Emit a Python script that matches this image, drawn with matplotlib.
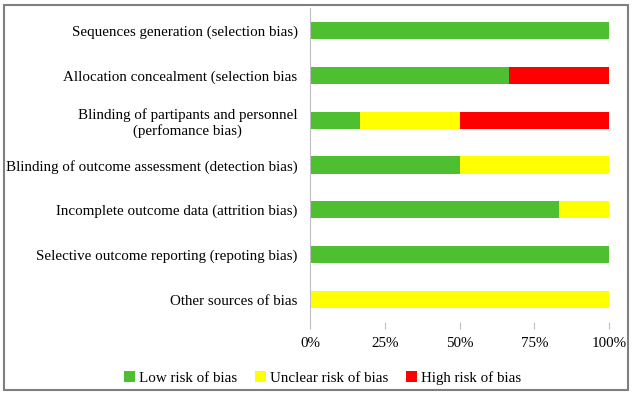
import matplotlib
matplotlib.use("Agg")
import matplotlib.pyplot as plt
from matplotlib.patches import Rectangle

categories = [
    "Sequences generation (selection bias)",
    "Allocation concealment (selection bias",
    "Blinding of partipants and personnel\n(perfomance bias)",
    "Blinding of outcome assessment (detection bias)",
    "Incomplete outcome data (attrition bias)",
    "Selective outcome reporting (repoting bias)",
    "Other sources of bias",
]
low = [100, 66.7, 16.7, 50, 83.3, 100, 0]
unclear = [0, 0, 33.3, 50, 16.7, 0, 100]
high = [0, 33.3, 50, 0, 0, 0, 0]
series_names = ["Low risk of bias", "Unclear risk of bias", "High risk of bias"]
colors = ["#4DBF30", "#FFFF00", "#FF0000"]
xticks = [0, 25, 50, 75, 100]
xticklabels = ["0%", "25%", "50%", "75%", "100%"]

plt.rcParams['font.family'] = ['Liberation Serif', 'DejaVu Serif']
FS = 10.8

fig = plt.figure(figsize=(6.33, 3.95), dpi=100)
ax = fig.add_axes([310/633, 1-322/395, 299/633, 314/395])

ypos = list(range(len(categories)))
left = [0]*len(categories)
for vals, name, c in zip([low, unclear, high], series_names, colors):
    ax.barh(ypos, vals, left=left, height=0.38, color=c, label=name)
    left = [l + v for l, v in zip(left, vals)]

ax.set_ylim(len(categories)-0.5, -0.5)
ax.set_xlim(0, 100)
ax.set_yticks(ypos)
ax.set_yticklabels(categories, fontsize=FS, ha='right', multialignment='center')
ax.tick_params(axis='y', length=0, pad=9)
ax.set_xticks(xticks)
ax.set_xticklabels(xticklabels, fontsize=FS)
ax.tick_params(axis='x', length=5, color='#BFBFBF', pad=6)
for s in ['top', 'right', 'bottom']:
    ax.spines[s].set_visible(False)
ax.spines['left'].set_color('#BFBFBF')

fig.legend(loc='center', bbox_to_anchor=(0.51, 1-378/395), ncol=3, frameon=False,
           fontsize=FS, handlelength=0.7, handleheight=0.7, handletextpad=0.3,
           columnspacing=1.2)

fig.patches.append(Rectangle((4/633, 5/395), 624/633, 385/395, transform=fig.transFigure,
                             fill=False, edgecolor='#7F7F7F', linewidth=1.5))

fig.savefig("out.png", dpi=100)
